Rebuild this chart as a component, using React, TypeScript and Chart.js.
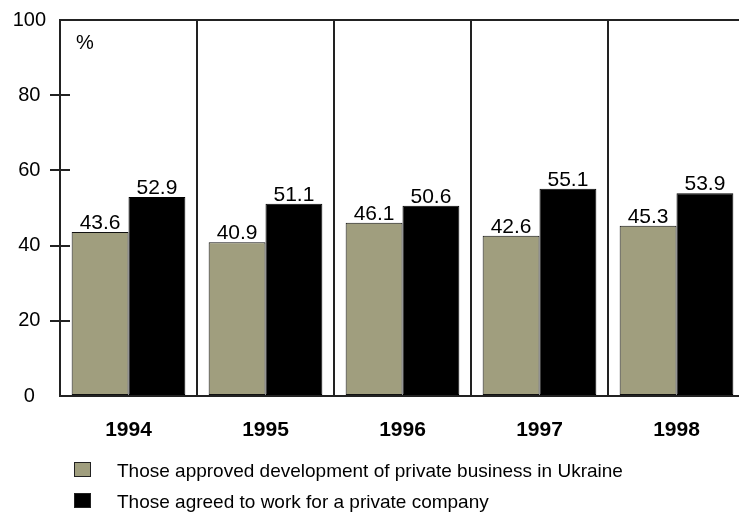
import React, { useEffect, useRef } from 'react';
import { Chart, registerables } from 'chart.js';

Chart.register(...registerables);

const categories = ['1994', '1995', '1996', '1997', '1998'];
const approvedValues = [43.6, 40.9, 46.1, 42.6, 45.3];
const agreedValues = [52.9, 51.1, 50.6, 55.1, 53.9];
const seriesLabels = [
  'Those approved development of private business in Ukraine',
  'Those agreed to work for a private company',
];
const yTickValues = [0, 20, 40, 60, 80, 100];
const unitLabel = '%';

const OLIVE = '#a09e7e';
const BLACK = '#000000';
const LINE = '#222222';
const FONT = '"Liberation Sans", Arial, sans-serif';

export default function App() {
  const ref = useRef<HTMLCanvasElement>(null);

  useEffect(() => {
    document.body.style.margin = '0';
    const canvas = ref.current;
    if (!canvas) return;

    const innerTicks = {
      id: 'innerTicks',
      afterDraw(chart: any) {
        const y = chart.scales.y;
        const { left, top } = chart.chartArea;
        const c = chart.ctx;
        c.save();
        c.strokeStyle = LINE;
        c.lineWidth = 2;
        yTickValues.forEach((v) => {
          if (v === 0 || v === 100) return;
          const py = Math.round(y.getPixelForValue(v));
          c.beginPath();
          c.moveTo(left - 10, py);
          c.lineTo(left + 10, py);
          c.stroke();
        });
        c.fillStyle = '#000';
        c.font = `20px ${FONT}`;
        c.textAlign = 'left';
        c.textBaseline = 'alphabetic';
        c.fillText(unitLabel, left + 16, top + 29);
        c.restore();
      },
    };

    const valueLabels = {
      id: 'valueLabels',
      afterDatasetsDraw(chart: any) {
        const c = chart.ctx;
        c.save();
        c.font = `21px ${FONT}`;
        c.fillStyle = '#000';
        c.textAlign = 'center';
        c.textBaseline = 'alphabetic';
        chart.data.datasets.forEach((ds: any, i: number) => {
          chart.getDatasetMeta(i).data.forEach((bar: any, j: number) => {
            c.fillText(Number(ds.data[j]).toFixed(1), bar.x, bar.y - 3);
          });
        });
        c.restore();
      },
    };

    const chart = new Chart(canvas, {
      type: 'bar',
      data: {
        labels: categories,
        datasets: [
          {
            label: seriesLabels[0],
            data: approvedValues,
            backgroundColor: OLIVE,
            borderColor: '#111',
            borderWidth: 1,
            borderSkipped: false,
          },
          {
            label: seriesLabels[1],
            data: agreedValues,
            backgroundColor: BLACK,
            borderColor: '#000',
            borderWidth: 1,
            borderSkipped: false,
          },
        ],
      },
      options: {
        responsive: false,
        animation: false,
        devicePixelRatio: 1,
        layout: { padding: { top: 20, right: 15, left: 0, bottom: 0 } },
        datasets: { bar: { categoryPercentage: 0.83, barPercentage: 1.0 } },
        plugins: {
          legend: { display: false },
          tooltip: { enabled: false },
          title: { display: false },
        },
        scales: {
          x: {
            offset: true,
            grid: {
              offset: true,
              color: LINE,
              lineWidth: 2,
              drawTicks: false,
            },
            border: { display: true, color: LINE, width: 2 },
            ticks: {
              color: '#000',
              font: { family: FONT, size: 21, weight: 'bold' },
              padding: 22,
            },
            afterFit(scale: any) {
              scale.height = 116;
              scale.paddingLeft = 0;
              scale.paddingRight = 0;
            },
          },
          y: {
            min: 0,
            max: 100,
            afterBuildTicks(scale: any) {
              scale.ticks = yTickValues.map((v) => ({ value: v }));
            },
            grid: {
              drawTicks: false,
              color: (ctx: any) => (ctx.tick && ctx.tick.value === 100 ? LINE : 'rgba(0,0,0,0)'),
              lineWidth: 2,
            },
            border: { display: true, color: LINE, width: 2 },
            ticks: {
              color: '#000',
              font: { family: FONT, size: 20 },
              crossAlign: 'center',
              padding: 14,
            },
            afterFit(scale: any) {
              scale.width = 60;
              scale.paddingTop = 0;
              scale.paddingBottom = 0;
            },
          },
        },
      },
      plugins: [innerTicks, valueLabels],
    } as any);

    return () => chart.destroy();
  }, []);

  const legendColors = [OLIVE, BLACK];
  const legendTops = [462, 493];

  return (
    <div
      style={{
        position: 'fixed',
        left: 0,
        top: 0,
        width: 739,
        height: 512,
        overflow: 'hidden',
        background: '#fff',
      }}
    >
      <canvas ref={ref} width={760} height={512} style={{ display: 'block' }} />
      {seriesLabels.map((label, i) => (
        <React.Fragment key={label}>
          <div
            style={{
              position: 'absolute',
              left: 74,
              top: legendTops[i],
              width: 17,
              height: 15,
              boxSizing: 'border-box',
              border: '1px solid #222',
              background: legendColors[i],
            }}
          />
          <div
            style={{
              position: 'absolute',
              left: 117,
              top: legendTops[i] - 1,
              fontFamily: FONT,
              fontSize: 19,
              lineHeight: '20px',
              color: '#000',
              whiteSpace: 'nowrap',
            }}
          >
            {label}
          </div>
        </React.Fragment>
      ))}
    </div>
  );
}
